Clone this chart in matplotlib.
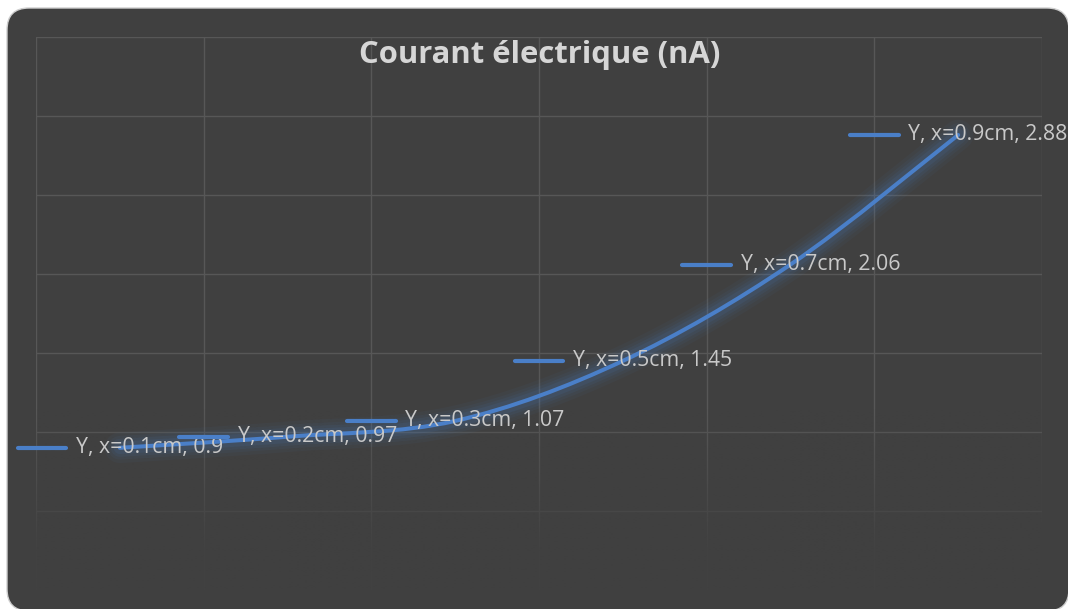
import numpy as np
import matplotlib
matplotlib.use("Agg")
import matplotlib.pyplot as plt
from matplotlib.patches import FancyBboxPatch, PathPatch
from matplotlib.path import Path
from matplotlib.lines import Line2D
from matplotlib.offsetbox import AnnotationBbox, HPacker, TextArea, DrawingArea

# Data
positions = ["x=0.1cm", "x=0.2cm", "x=0.3cm", "x=0.5cm", "x=0.7cm", "x=0.9cm"]
current_na = [0.9, 0.97, 1.07, 1.45, 2.06, 2.88]
series_name = "Y"
title = "Courant électrique (nA)"

BG = "#404040"
GRID = "#575757"
BLUE = "#4a7fc8"
TXT = "#c9c9c9"
TITLE_TXT = "#d6d6d6"
FONT = "Open Sans"

W, H, DPI = 1068, 609, 100
fig = plt.figure(figsize=(W / DPI, H / DPI), dpi=DPI)
fig.patch.set_facecolor("white")

# Rounded dark chart area
r = 22 / W
card = FancyBboxPatch((7 / W, -2 / H), (1069 - 7) / W, (609 - 8 + 2) / H,
                      boxstyle=f"round,pad=0,rounding_size={r}",
                      mutation_aspect=W / H,
                      transform=fig.transFigure, facecolor=BG,
                      edgecolor="#cfcfcf", linewidth=1.0, zorder=-5)
fig.patches.append(card)

ax = fig.add_axes([36 / W, (H - 590) / H, (1042 - 36) / W, (590 - 37) / H])
ax.set_zorder(1)
ax.patch.set_visible(False)
ax.set_xlim(-0.5, len(positions) - 0.5)
ax.set_ylim(0, 3.5)
for s in ax.spines.values():
    s.set_visible(False)
ax.set_xticks(np.arange(-0.5, len(positions), 1.0))
ax.set_yticks(np.arange(0, 3.51, 0.5))
ax.tick_params(length=0, labelbottom=False, labelleft=False)
ax.grid(True, color=GRID, linewidth=1.0, zorder=1)
ax.set_axisbelow(True)

# Soft fade of the grid toward the bottom of the plot
grad = np.zeros((200, 2, 4))
c = matplotlib.colors.to_rgb(BG)
grad[..., 0], grad[..., 1], grad[..., 2] = c
alpha = np.clip(np.linspace(1.2, 0.0, 200), 0, 0.95)
grad[..., 3] = alpha[:, None]
ax.imshow(grad, extent=[-0.5, len(positions) - 0.5, 0.0, 1.15], origin="lower",
          aspect="auto", zorder=1.5, interpolation="bilinear")

# Smoothed line through the points (Catmull-Rom style Bezier segments)
xs = np.arange(len(current_na), dtype=float)
ys = np.array(current_na, dtype=float)
pts = np.column_stack([xs, ys])
verts = [pts[0]]
codes = [Path.MOVETO]
n = len(pts)
for i in range(n - 1):
    p0 = pts[i - 1] if i > 0 else pts[i]
    p1 = pts[i]
    p2 = pts[i + 1]
    p3 = pts[i + 2] if i + 2 < n else pts[i + 1]
    c1 = p1 + (p2 - p0) / 6.0
    c2 = p2 - (p3 - p1) / 6.0
    verts += [c1, c2, p2]
    codes += [Path.CURVE4] * 3
path = Path(verts, codes)

for lw, a in [(22, 0.05), (17, 0.06), (13, 0.08), (9, 0.10)]:
    ax.add_patch(PathPatch(path, facecolor="none", edgecolor=BLUE, lw=lw,
                           alpha=a, capstyle="round", zorder=3))
ax.add_patch(PathPatch(path, facecolor="none", edgecolor=BLUE, lw=2.9,
                       capstyle="round", zorder=4))

# Data labels with legend key, centred on each point
for xi, (pos, v) in enumerate(zip(positions, current_na)):
    da = DrawingArea(37, 8, 0, 0)
    da.add_artist(Line2D([1, 36], [4, 4], color=BLUE, lw=3.0,
                         solid_capstyle="round"))
    ta = TextArea(f"{series_name}, {pos}, {v:g}",
                  textprops=dict(color=TXT, fontsize=15.3, family=FONT))
    box = HPacker(children=[da, ta], align="center", pad=0, sep=6)
    ab = AnnotationBbox(box, (xi, v), xycoords="data", frameon=False,
                        box_alignment=(0.5, 0.5), pad=0, zorder=5,
                        annotation_clip=False)
    ax.add_artist(ab)

fig.text(540 / W, 1 - 55 / H, title, ha="center", va="center",
         color=TITLE_TXT, fontsize=22.3, fontweight="bold", family=FONT,
         zorder=6)

fig.savefig("out.png", dpi=DPI, facecolor=fig.get_facecolor())
